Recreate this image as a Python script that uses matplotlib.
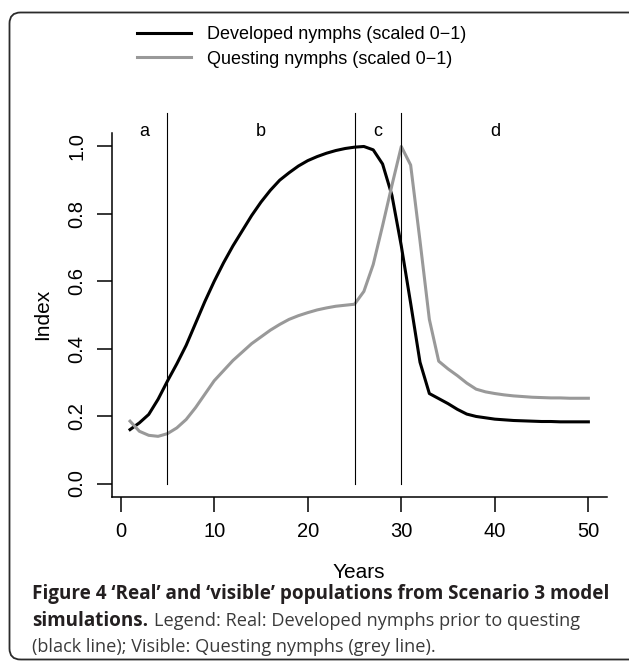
import matplotlib
matplotlib.use('Agg')
import matplotlib.pyplot as plt
from matplotlib.patches import FancyBboxPatch
from matplotlib.lines import Line2D

# ---------------- data ----------------
years = list(range(1, 51))
developed = [0.160, 0.180, 0.205, 0.250, 0.304, 0.355, 0.410, 0.475, 0.540, 0.600,
             0.655, 0.705, 0.750, 0.795, 0.835, 0.870, 0.900, 0.922, 0.942, 0.958,
             0.970, 0.980, 0.988, 0.994, 0.998, 1.000, 0.990, 0.948, 0.855, 0.705,
             0.535, 0.360, 0.267, 0.252, 0.237, 0.220, 0.206, 0.199, 0.195, 0.191,
             0.189, 0.187, 0.186, 0.185, 0.184, 0.184, 0.183, 0.183, 0.183, 0.183]
questing = [0.185, 0.155, 0.143, 0.140, 0.148, 0.165, 0.190, 0.225, 0.265, 0.305,
            0.335, 0.365, 0.390, 0.415, 0.435, 0.455, 0.472, 0.487, 0.498, 0.507,
            0.515, 0.521, 0.526, 0.529, 0.532, 0.570, 0.650, 0.765, 0.885, 1.000,
            0.945, 0.720, 0.487, 0.363, 0.340, 0.320, 0.298, 0.280, 0.272, 0.267,
            0.263, 0.260, 0.258, 0.256, 0.255, 0.254, 0.254, 0.253, 0.253, 0.253]
phase_bounds = [5, 25, 30]
phase_labels = ['a', 'b', 'c', 'd']
phase_label_x = [2.5, 15, 27.5, 40]
legend_labels = ['Developed nymphs (scaled 0\u22121)', 'Questing nymphs (scaled 0\u22121)']
xticks = [0, 10, 20, 30, 40, 50]
yticks = [0.0, 0.2, 0.4, 0.6, 0.8, 1.0]
ytick_labels = ['0.0', '0.2', '0.4', '0.6', '0.8', '1.0']
xlabel = 'Years'
ylabel = 'Index'
cap_bold1 = 'Figure 4 \u2018Real\u2019 and \u2018visible\u2019 populations from Scenario 3 model'
cap_bold2 = 'simulations.'
cap_reg2 = 'Legend: Real: Developed nymphs prior to questing'
cap_reg3 = '(black line); Visible: Questing nymphs (grey line).'

# ---------------- figure ----------------
plt.rcParams['font.family'] = ['Liberation Sans', 'DejaVu Sans']
W, H = 629, 661
fig = plt.figure(figsize=(W / 100, H / 100), dpi=100)

def fx(px):
    return px / W

def fy(py):
    return 1 - py / H

# outer rounded frame
frame = FancyBboxPatch((9.5 / 100, 1.5 / 100), (645 - 9.5) / 100, (H - 12.5 - 1.5) / 100,
                       boxstyle='round,pad=0,rounding_size=0.11',
                       transform=fig.dpi_scale_trans, fill=False,
                       edgecolor='#2b2b2b', linewidth=1.3, clip_on=False)
fig.patches.append(frame)

ax = fig.add_axes([fx(111.7), fy(497), (606.7 - 111.7) / W, (497 - 133) / H])
ax.set_xlim(-0.96, 51.96)
ax.set_ylim(-0.04, 1.04)

ax.plot(years, developed, color='black', lw=2.2)
ax.plot(years, questing, color='#999999', lw=2.2)

for b in phase_bounds:
    ax.plot([b, b], [0, 1.1], color='black', lw=0.8, clip_on=False)
for lx, lab in zip(phase_label_x, phase_labels):
    ax.text(lx, 1.045, lab, ha='center', va='center', fontsize=13, clip_on=False)

for s in ['top', 'right']:
    ax.spines[s].set_visible(False)
for s in ['left', 'bottom']:
    ax.spines[s].set_linewidth(1.1)

ax.set_xticks(xticks)
ax.set_xticklabels([str(t) for t in xticks])
ax.set_yticks(yticks)
ax.set_yticklabels(ytick_labels, rotation=90, va='center')
ax.tick_params(direction='out', length=11, width=1.1, labelsize=14.5, pad=7)

fig.text(fx(359), fy(573), xlabel, ha='center', va='center', fontsize=15)
fig.text(fx(43), fy(314), ylabel, ha='center', va='center', fontsize=15, rotation=90)

# legend
handles = [Line2D([], [], color='black', lw=2.2), Line2D([], [], color='#999999', lw=2.2)]
fig.legend(handles, legend_labels, loc='upper left', bbox_to_anchor=(fx(137), fy(26)),
           frameon=False, fontsize=13, handlelength=3.0, handletextpad=0.9,
           labelspacing=0.42, borderpad=0, borderaxespad=0)

# caption
cap_color = '#231f20'
r = fig.canvas.get_renderer()
t1 = fig.text(fx(32), fy(599.5), cap_bold1, fontfamily=['Open Sans', 'DejaVu Sans'],
              fontweight='bold', fontsize=15, color=cap_color, va='baseline')
w = t1.get_window_extent(r).width
bold_fs = 15 * 575 / w
t1.set_fontsize(bold_fs)
t3 = fig.text(fx(32), fy(652.5), cap_reg3, fontfamily=['Open Sans', 'DejaVu Sans'],
              fontsize=15, color='#3a3a3a', va='baseline')
w3 = t3.get_window_extent(r).width
reg_fs = 15 * 405 / w3
t3.set_fontsize(reg_fs)
t2a = fig.text(fx(32), fy(626), cap_bold2, fontfamily=['Open Sans', 'DejaVu Sans'],
               fontweight='bold', fontsize=bold_fs, color=cap_color, va='baseline')
x_end = t2a.get_window_extent(r).x1
fig.text((x_end + 6) / W, fy(626), cap_reg2, fontfamily=['Open Sans', 'DejaVu Sans'],
         fontsize=reg_fs, color='#3a3a3a', va='baseline')

fig.savefig('out.png', dpi=100)
